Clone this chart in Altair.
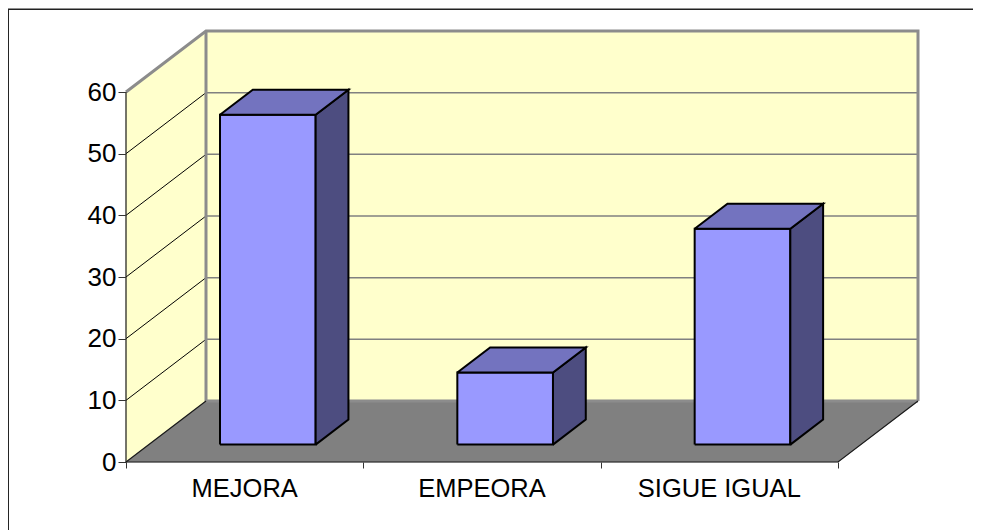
import altair as alt
import pandas as pd

categories = ["MEJORA", "EMPEORA", "SIGUE IGUAL"]
values = [53.5, 11.7, 35.0]
y_ticks = [0, 10, 20, 30, 40, 50, 60]
x_ticks = [0, 1, 2, 3]

W, H = 965, 522
CAT_PX = (838 - 126) / 3
VAL_PX = 370 / 60
X_MIN = (8 - 126) / CAT_PX
X_MAX = (8 + W - 126) / CAT_PX
Y_MAX = (462 - 8) / VAL_PX
Y_MIN = (462 - 8 - H) / VAL_PX
DEPTH_X = 80 / CAT_PX
DEPTH_Y = 61 / VAL_PX
TOP = 60
N = len(categories)
B0, B1 = 0.3, 0.703
D0, D1 = 0.285, 0.695


def P(c, v, d=0.0):
    return (c + d * DEPTH_X, v + d * DEPTH_Y)


polys = {}
def add(style, name, pts):
    rows = polys.setdefault(style, [])
    for i, (x, y) in enumerate(pts):
        rows.append({"x": x, "y": y, "poly": name, "i": i})


# walls and floor
add("wall", "back", [P(0, 0, 1), P(N, 0, 1), P(N, TOP, 1), P(0, TOP, 1), P(0, 0, 1)])
add("wall", "left", [P(0, 0), P(0, 0, 1), P(0, TOP, 1), P(0, TOP), P(0, 0)])
add("floor", "floor", [P(0, 0), P(N, 0), P(N, 0, 1), P(0, 0, 1), P(0, 0)])
# grid
for t in y_ticks[1:-1]:
    add("gridback", f"b{t}", [P(0, t, 1), P(N, t, 1)])
    add("gridleft", f"l{t}", [P(0, t), P(0, t, 1)])
add("gridback", "top60", [P(0, TOP, 1), P(N, TOP, 1)])
# wall edges
add("edge", "e1", [P(0, TOP), P(0, TOP, 1), P(N, TOP, 1), P(N, 0, 1)])
add("edge", "e2", [P(0, 0, 1), P(0, TOP, 1)])
add("edge", "e3", [P(0, 0, 1), P(N, 0, 1)])
# axis lines
add("axis", "a1", [P(0, TOP), P(0, 0), P(N, 0), P(N, 0, 1)])
add("axis", "a2", [P(0, 0), P(0, 0, 1)])
# bars
for k, v in enumerate(values):
    a, b = k + B0, k + B1
    add("front", f"f{k}", [P(a, 0, D0), P(b, 0, D0), P(b, v, D0), P(a, v, D0), P(a, 0, D0)])
    add("side", f"s{k}", [P(b, 0, D0), P(b, 0, D1), P(b, v, D1), P(b, v, D0), P(b, 0, D0)])
    add("top", f"t{k}", [P(a, v, D0), P(b, v, D0), P(b, v, D1), P(a, v, D1), P(a, v, D0)])
# frame
add("frame", "frame", [(X_MIN + 0.001, Y_MIN), (X_MIN + 0.001, Y_MAX - 0.2), (X_MAX, Y_MAX - 0.2)])

x_scale = alt.Scale(domain=[X_MIN, X_MAX], nice=False, zero=False)
y_scale = alt.Scale(domain=[Y_MIN, Y_MAX], nice=False, zero=False)
X = alt.X("x:Q", scale=x_scale, title=None,
          axis=alt.Axis(values=x_ticks, labels=False, grid=False, domain=False,
                        tickSize=6, tickColor="#333333", offset=-(8 + H - 462)))
Y = alt.Y("y:Q", scale=y_scale, title=None,
          axis=alt.Axis(values=y_ticks, grid=False, domain=False, tickSize=8, tickColor="#333333",
                        labelFont="Liberation Sans", labelFontSize=26, labelColor="#000000",
                        labelPadding=2, offset=-118))


def layer(style, **mark):
    return alt.Chart(pd.DataFrame(polys[style])).mark_line(**mark).encode(
        x=X, y=Y, detail="poly:N", order="i:Q")


stack = [
    layer("wall", fill="#FFFFCC", stroke="#FFFFCC", strokeWidth=0.5),
    layer("floor", fill="#808080", stroke="#808080", strokeWidth=0.5),
    layer("gridback", stroke="#808080", strokeWidth=1.5),
    layer("gridleft", stroke="#000000", strokeWidth=1),
    layer("edge", stroke="#8C8C8C", strokeWidth=3),
    layer("axis", stroke="#1A1A1A", strokeWidth=1.2),
    layer("front", fill="#9999FF", stroke="#000000", strokeWidth=2, strokeJoin="miter"),
    layer("side", fill="#4D4D80", stroke="#000000", strokeWidth=2, strokeJoin="miter"),
    layer("top", fill="#7373BF", stroke="#000000", strokeWidth=2, strokeJoin="miter"),
    layer("frame", stroke="#222222", strokeWidth=1.5),
]

labels = pd.DataFrame({"x": [i + 0.5 for i in range(N)], "y": [0] * N, "label": categories})
text = alt.Chart(labels).mark_text(font="Liberation Sans", fontSize=25.5, color="#000000",
                                   baseline="middle", dy=27).encode(
    x=alt.X("x:Q", scale=x_scale), y=alt.Y("y:Q", scale=y_scale), text="label:N")

chart = alt.layer(*stack, text).properties(
    width=W, height=H, padding=0, background="#FFFFFF",
    autosize=alt.AutoSizeParams(type="none"),
).configure_view(stroke=None)

chart.save("out.html", embed_options={"renderer": "svg", "actions": False})
